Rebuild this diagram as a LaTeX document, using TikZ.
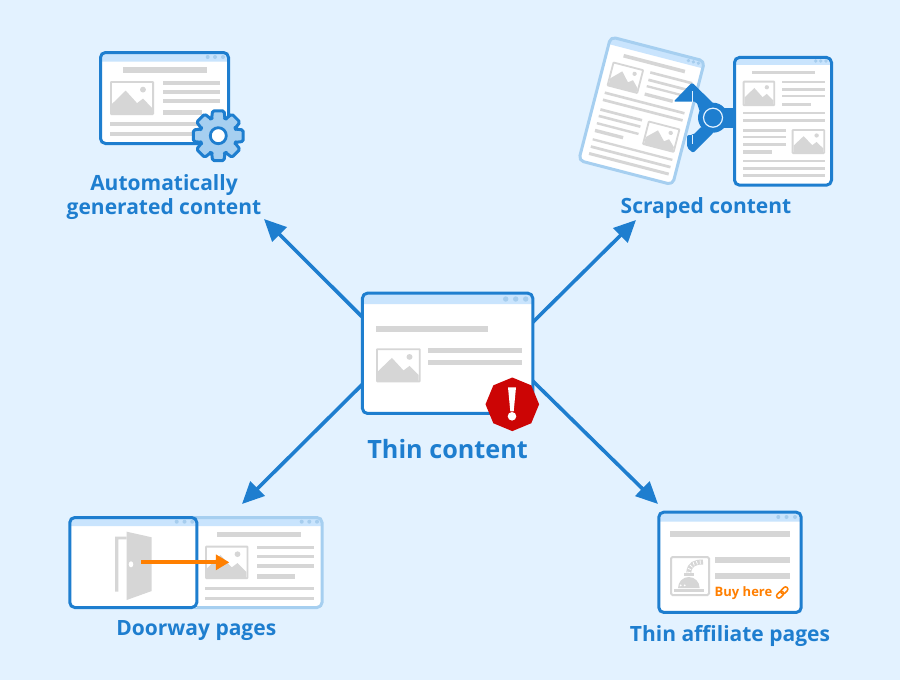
\documentclass[tikz,border=0pt]{standalone}
\usepackage{fontspec}
\usetikzlibrary{arrows.meta,shapes.geometric}
\newfontfamily\labelfont{Open Sans}[BoldFont={Open Sans Bold}]

\definecolor{pagebg}{HTML}{E3F2FF}
\definecolor{mainblue}{HTML}{1E7ECF}
\definecolor{paleblue}{HTML}{A6CFF0}
\definecolor{headblue}{HTML}{C9E4FD}
\definecolor{dotblue}{HTML}{A6CDEE}
\definecolor{bargray}{HTML}{D6D6D6}
\definecolor{alertred}{HTML}{CC0505}
\definecolor{buyorange}{HTML}{FF7F00}

\tikzset{
	window/.style={fill=white,inner sep=0pt,outer sep=0pt,transform shape},
	spoke/.style={draw=mainblue,line width=3.6pt,-{Triangle[length=22pt,width=20pt]}},
	bar/.style={fill=bargray},
	hdot/.style={fill=dotblue},
	caption/.style={text=mainblue,inner sep=0pt,anchor=base,align=center},
	cogwheel/.style={draw=mainblue,fill=paleblue,line width=3pt,line join=round,rounded corners=1.6pt},
	notch/.style={draw=pagebg,line width=1pt}
}

% name, x, y, width, height, header height, border colour
\newcommand{\pagewindow}[7]{
	\node[window,minimum width=#4pt,minimum height=#5pt] (#1) at (#2,#3) {};
	\fill[headblue] ([yshift=-#6pt]#1.north west) [rounded corners=5pt] -- (#1.north west) -- (#1.north east) [sharp corners] -- ([yshift=-#6pt]#1.north east) -- cycle;
	\draw[#7,line width=3pt,rounded corners=5pt] (#1.south west) -- (#1.south east) -- (#1.north east) -- (#1.north west) -- cycle;
}

% x, y, width, height
\newcommand{\photoicon}[4]{
	\begin{scope}[shift={(#1,#2)},xscale=#3,yscale=#4]
		\draw[bargray,line width=1.8pt,fill=white,rounded corners=0.6pt] (0,0) rectangle (1,1);
		\fill[bargray] (0.03,0.68) -- (0.35,0.27) -- (0.62,0.66) -- (0.76,0.52) -- (0.97,0.80) -- (0.97,1) -- (0.03,1) -- cycle;
		\fill[bargray] (0.76,0.24) circle [x radius=0.07,y radius=0.09];
	\end{scope}
}

% the long page of the scraped pair, drawn at its right hand place
\newcommand{\articlepage}[2]{
	\pagewindow{#1}{783}{121.3}{97}{127.7}{7.5}{#2}
	\foreach \dotx in {815.7,820.8,826} \fill[hdot] (\dotx,61) circle (1.9);
	\fill[bar] (751.7,70.7) rectangle (815,74.3);
	\photoicon{743.6}{81.6}{30.6}{23.6}
	\photoicon{792.6}{129.9}{31.6}{23.2}
	\fill[bar] (781.7,80.7) rectangle (825,83.3);
	\fill[bar] (781.7,88.3) rectangle (825,91);
	\fill[bar] (781.7,95) rectangle (825,97.3);
	\fill[bar] (781.7,102.7) rectangle (810.7,106);
	\fill[bar] (742.7,111.7) rectangle (825,114.3);
	\fill[bar] (742.7,119) rectangle (825,121.7);
	\fill[bar] (742.7,129) rectangle (785.7,131.7);
	\fill[bar] (742.7,135.7) rectangle (785.7,138.3);
	\fill[bar] (742.7,143.3) rectangle (785.7,145.7);
	\fill[bar] (742.7,150.3) rectangle (771.7,153.7);
	\fill[bar] (742.7,160) rectangle (825,162.3);
	\fill[bar] (742.7,167.3) rectangle (825,170);
	\fill[bar] (742.7,174.3) rectangle (825,177.3);
}

\begin{document}
\begin{tikzpicture}[x=1pt,y=-1pt]
	\path[use as bounding box,fill=pagebg] (0,0) rectangle (900,680);

	% centre window comes first, the spokes hang on it
	\node[window,minimum width=170.3pt,minimum height=120.3pt] (thin) at (447.6,353.3) {};
	\coordinate (autotip) at (264,219);
	\coordinate (scrapedtip) at (636,220);
	\coordinate (doorwaytip) at (242,504);
	\coordinate (affiliatetip) at (658,504);
	\draw[spoke] (thin.157.3) -- (autotip);
	\draw[spoke] (thin.20.4) -- (scrapedtip);
	\draw[spoke] (thin.200.4) -- (doorwaytip);
	\draw[spoke] (thin.-18.2) -- (affiliatetip);

	\pagewindow{thin}{447.6}{353.3}{170.3}{120.3}{11}{mainblue}
	\foreach \dotx in {505.7,515.7,525.7} \fill[hdot] (\dotx,299) circle (2.7);
	\fill[bar] (376,326) rectangle (488.3,331.7);
	\photoicon{376.9}{349.2}{42.9}{32.2}
	\fill[bar] (427.7,348.3) rectangle (521.7,353);
	\fill[bar] (427.7,360) rectangle (521.7,365.3);
	\node[regular polygon,regular polygon sides=8,shape border rotate=22.5,fill=alertred,inner sep=0pt,minimum size=53.6pt] (alert) at (512.3,404.3) {};
	\fill[white] (508,387.3) -- (516,387.3) -- (513.7,411.3) -- (510.3,411.3) -- cycle;
	\fill[white] (512,416.3) circle (4.3);
	\node[caption,font=\labelfont\bfseries\fontsize{25.2}{30}\selectfont] (thinlabel) at (447.6,458.5) {Thin content};

	% automatically generated
	\pagewindow{autogen}{164.5}{98}{128}{91}{9.2}{mainblue}
	\foreach \dotx in {207.7,215,223} \fill[hdot] (\dotx,57) circle (2);
	\fill[bar] (122.7,67.3) rectangle (206.7,73);
	\photoicon{110.9}{81.9}{42.2}{32.2}
	\fill[bar] (162.7,81) rectangle (220,85);
	\fill[bar] (162.7,90) rectangle (220,94);
	\fill[bar] (162.7,99) rectangle (220,103);
	\fill[bar] (162.7,110) rectangle (201.7,115);
	\fill[bar] (110,122) rectangle (205,126);
	\fill[bar] (110,132) rectangle (205,136);
	\begin{scope}[shift={(218.3,135.7)}]
		\draw[cogwheel] (-21:18.5) \foreach \a in {0,45,...,315} {-- (\a-21:18.5) -- (\a-13:25.6) -- (\a+13:25.6) -- (\a+21:18.5)} -- cycle;
		\draw[mainblue,line width=2.8pt,fill=white] (0,0) circle (8);
	\end{scope}
	\node[caption,font=\labelfont\bfseries\fontsize{21}{24}\selectfont] (autolabel) at (164,214) {Automatically\\generated content};

	% scraped pair
	\begin{scope}[shift={(641.7,110.8)},rotate=-14.5,shift={(-783,-121.3)}]
		\articlepage{source}{paleblue}
	\end{scope}
	\fill[mainblue,rounded corners=2pt] (673.5,101.7) -- (692,82.5) -- (715,105) -- (702,118) -- (696.5,101.7) -- cycle;
	\fill[mainblue,rounded corners=2pt] (687,135) -- (693,135) -- (702,126) -- (714,132) -- (693,153) -- (687,147.5) -- cycle;
	\draw[notch] (692,91) -- (692,101.7);
	\draw[notch] (692,135) -- (692,144);
	\fill[mainblue] (722,107.7) rectangle (735,127.7);
	\node[circle,fill=mainblue,minimum size=30pt,inner sep=0pt] (hub) at (713,117.7) {};
	\draw[pagebg,line width=1.2pt] (hub) circle (9.5);
	\articlepage{copy}{mainblue}
	\node[caption,font=\labelfont\bfseries\fontsize{21}{24}\selectfont] (scrapedlabel) at (706,213.3) {Scraped content};

	% doorway
	\pagewindow{target}{256}{562.5}{132}{90}{8.5}{paleblue}
	\foreach \dotx in {301.7,309.3,317} \fill[hdot] (\dotx,521.7) circle (2);
	\fill[bar] (217.3,532.3) rectangle (300.7,537);
	\photoicon{205.9}{546.6}{41.6}{31.6}
	\fill[bar] (257.3,545.7) rectangle (314,549);
	\fill[bar] (257.3,555) rectangle (314,558.3);
	\fill[bar] (257.3,564.3) rectangle (314,567.7);
	\fill[bar] (257.3,574.3) rectangle (295,579);
	\fill[bar] (205,586.7) rectangle (314,590.3);
	\fill[bar] (205,596.7) rectangle (314,600.3);
	\pagewindow{door}{133.3}{562.5}{127}{90}{8.5}{mainblue}
	\foreach \dotx in {176.7,184.5,192.3} \fill[hdot] (\dotx,521.7) circle (2);
	\fill[bar] (115,536.7) -- (126.7,536.7) -- (126.7,539.3) -- (118.3,539.3) -- (118.3,591.7) -- (115,591.7) -- cycle;
	\fill[bar] (126.7,531.7) -- (151.7,537.3) -- (151.7,591) -- (126.7,600) -- cycle;
	\fill[white] (131,564.3) circle [x radius=2.3,y radius=3];
	\coordinate (doorstart) at (141,562.3);
	\coordinate (doorend) at (229.3,562.3);
	\draw[buyorange,line width=4pt,-{Triangle[length=13.5pt,width=15pt]}] (doorstart) -- (doorend);
	\node[caption,font=\labelfont\bfseries\fontsize{21}{24}\selectfont] (doorlabel) at (196.3,635) {Doorway pages};

	% affiliate
	\pagewindow{affiliate}{730}{562.3}{142.4}{100.3}{9.5}{mainblue}
	\foreach \dotx in {778.3,786.5,795} \fill[hdot] (\dotx,517) circle (2);
	\fill[bar] (670,531) rectangle (790,537.3);
	\fill[bar] (715,556.7) rectangle (790,562.7);
	\fill[bar] (715,573.3) rectangle (790,579.3);
	\draw[bargray,line width=2pt,rounded corners=1.5pt] (671,557) rectangle (709,595);
	\fill[bargray] (674,588.7) rectangle (704,592);
	\fill[bargray] (678,588) arc (180:360:10.8 and 11);
	\fill[bargray] (684,572.7) rectangle (694,576);
	\draw[bargray,line width=5pt] (688.7,572.7) .. controls (689.5,564) and (695,562) .. (703,562);
	\draw[white,line width=3.4pt,dash pattern=on 0.8pt off 2.6pt] (688.7,572.7) .. controls (689.5,564) and (695,562) .. (703,562);
	\fill[white] (680.7,585.3) circle (1) (684.7,585.3) circle (1);
	\node[caption,text=buyorange,font=\labelfont\bfseries\fontsize{13}{15}\selectfont] (buylabel) at (743.5,596) {Buy here};
	\begin{scope}[shift={(782.2,592.5)},rotate=45]
		\draw[buyorange,line width=1.5pt,rounded corners=2.2pt] (-7,-2.3) rectangle (1,2.3);
		\draw[buyorange,line width=1.5pt,rounded corners=2.2pt] (-1,-2.3) rectangle (7,2.3);
	\end{scope}
	\node[caption,font=\labelfont\bfseries\fontsize{21}{24}\selectfont] (affiliatelabel) at (730,641) {Thin affiliate pages};
\end{tikzpicture}
\end{document}
